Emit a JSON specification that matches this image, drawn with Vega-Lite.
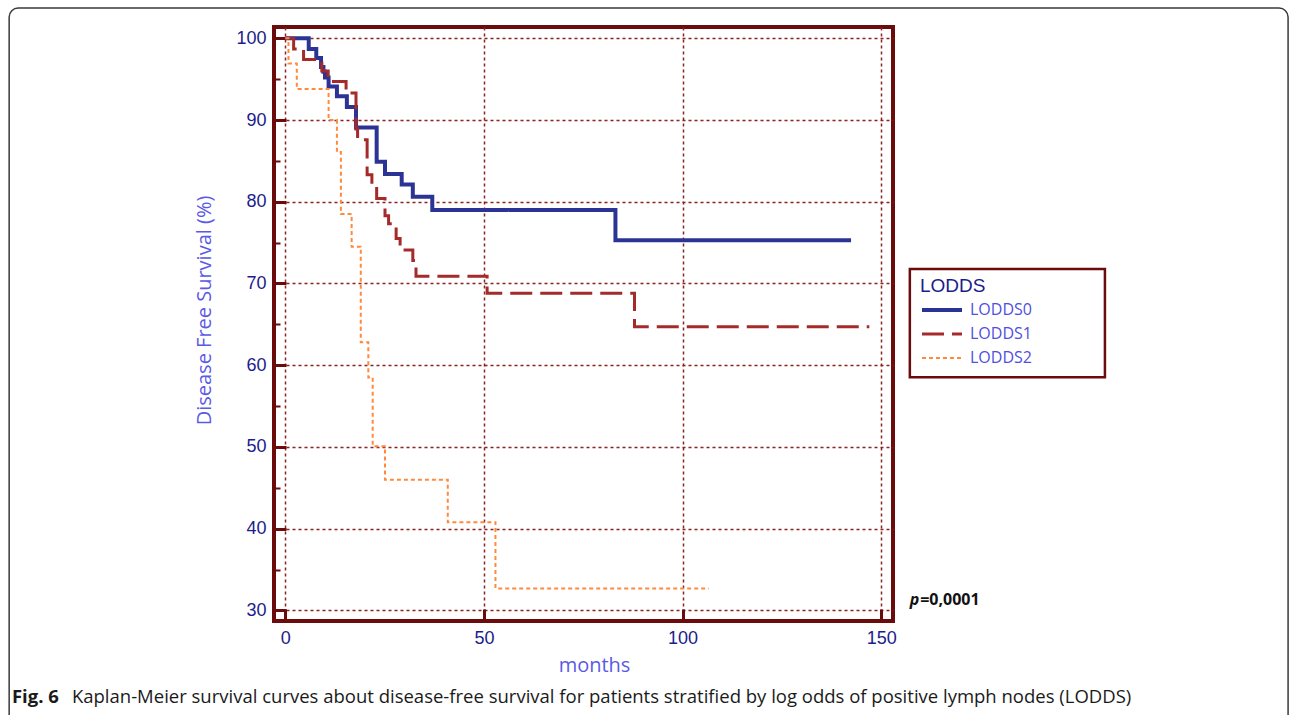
{
  "$schema": "https://vega.github.io/schema/vega-lite/v6.json",
  "width": 619,
  "height": 594,
  "autosize": {"type": "none"},
  "padding": {"left": 274, "top": 27, "right": 397, "bottom": 94},
  "background": "white",
  "config": {
    "view": {"stroke": "#6b0b0b", "strokeWidth": 4}
  },
  "layer": [
    {
      "data": {"values": [{"part": "figure"}]},
      "mark": {"type": "rect", "fillOpacity": 0, "stroke": "#3a3a3a", "strokeWidth": 1.5, "cornerRadius": 9},
      "encoding": {
        "x": {"datum": -69.5, "type": "quantitative", "scale": {"domain": [-2.84, 152.96], "nice": false, "zero": false}},
        "x2": {"datum": 252.4},
        "y": {"datum": 103.7, "type": "quantitative", "scale": {"domain": [28.71, 101.38], "nice": false, "zero": false}},
        "y2": {"datum": 15.0}
      }
    },
    {
      "data": {"values": [{"part": "legend"}]},
      "mark": {"type": "rect", "fillOpacity": 0, "stroke": "#6b0b0b", "strokeWidth": 2.5},
      "encoding": {
        "x": {"datum": 157.2, "type": "quantitative", "scale": {"domain": [-2.84, 152.96], "nice": false, "zero": false}},
        "x2": {"datum": 206.3},
        "y": {"datum": 71.76, "type": "quantitative", "scale": {"domain": [28.71, 101.38], "nice": false, "zero": false}},
        "y2": {"datum": 58.54}
      }
    },
    {
      "data": {"values": [
        {"group": "LODDS0", "t": 0, "s": 100},
        {"group": "LODDS0", "t": 5.9, "s": 98.7},
        {"group": "LODDS0", "t": 7.8, "s": 97.6},
        {"group": "LODDS0", "t": 9.0, "s": 96.5},
        {"group": "LODDS0", "t": 9.6, "s": 95.9},
        {"group": "LODDS0", "t": 10.0, "s": 95.2},
        {"group": "LODDS0", "t": 10.9, "s": 94.1},
        {"group": "LODDS0", "t": 13.0, "s": 92.9},
        {"group": "LODDS0", "t": 15.5, "s": 91.6},
        {"group": "LODDS0", "t": 17.8, "s": 89.1},
        {"group": "LODDS0", "t": 23.0, "s": 84.9},
        {"group": "LODDS0", "t": 25.1, "s": 83.4},
        {"group": "LODDS0", "t": 29.3, "s": 82.1},
        {"group": "LODDS0", "t": 32.1, "s": 80.6},
        {"group": "LODDS0", "t": 37.0, "s": 79.0},
        {"group": "LODDS0", "t": 83.1, "s": 75.3},
        {"group": "LODDS0", "t": 142.4, "s": 75.3},
        {"group": "LODDS1", "t": 0, "s": 100},
        {"group": "LODDS1", "t": 2.1, "s": 98.7},
        {"group": "LODDS1", "t": 4.6, "s": 97.4},
        {"group": "LODDS1", "t": 9.2, "s": 96.0},
        {"group": "LODDS1", "t": 10.8, "s": 94.7},
        {"group": "LODDS1", "t": 15.3, "s": 93.3},
        {"group": "LODDS1", "t": 17.8, "s": 88.9},
        {"group": "LODDS1", "t": 18.2, "s": 87.6},
        {"group": "LODDS1", "t": 20.6, "s": 83.3},
        {"group": "LODDS1", "t": 21.8, "s": 82.2},
        {"group": "LODDS1", "t": 23.0, "s": 80.4},
        {"group": "LODDS1", "t": 25.1, "s": 78.3},
        {"group": "LODDS1", "t": 26.0, "s": 77.3},
        {"group": "LODDS1", "t": 27.9, "s": 75.5},
        {"group": "LODDS1", "t": 28.9, "s": 74.1},
        {"group": "LODDS1", "t": 32.1, "s": 72.8},
        {"group": "LODDS1", "t": 32.9, "s": 70.9},
        {"group": "LODDS1", "t": 50.8, "s": 68.8},
        {"group": "LODDS1", "t": 87.9, "s": 64.7},
        {"group": "LODDS1", "t": 147.0, "s": 64.7},
        {"group": "LODDS2", "t": 0, "s": 100},
        {"group": "LODDS2", "t": 0.8, "s": 96.9},
        {"group": "LODDS2", "t": 2.9, "s": 93.8},
        {"group": "LODDS2", "t": 10.9, "s": 90.0},
        {"group": "LODDS2", "t": 13.0, "s": 86.1},
        {"group": "LODDS2", "t": 14.0, "s": 78.5},
        {"group": "LODDS2", "t": 16.7, "s": 74.5},
        {"group": "LODDS2", "t": 19.0, "s": 62.8},
        {"group": "LODDS2", "t": 20.9, "s": 58.5},
        {"group": "LODDS2", "t": 22.0, "s": 50.1},
        {"group": "LODDS2", "t": 25.1, "s": 46.0},
        {"group": "LODDS2", "t": 40.9, "s": 40.8},
        {"group": "LODDS2", "t": 52.9, "s": 32.7},
        {"group": "LODDS2", "t": 106.6, "s": 32.7}
      ]},
      "mark": {"type": "line", "interpolate": "step-after", "strokeCap": "butt"},
      "encoding": {
        "x": {
          "field": "t", "type": "quantitative",
          "scale": {"domain": [-2.84, 152.96], "nice": false, "zero": false},
          "axis": {
            "values": [0, 50, 100, 150],
            "title": "months",
            "titleFont": "Open Sans", "titleFontSize": 20, "titleFontWeight": "normal", "titleColor": "#5a5ae6", "titlePadding": 8, "titleX": 320,
            "labelFont": "Liberation Sans", "labelFontSize": 18, "labelColor": "#1c1c8c", "labelPadding": 20, "labelFlush": false,
            "tickSize": -12, "tickWidth": 3, "tickColor": "#6b0b0b",
            "domain": false,
            "grid": true, "gridColor": "#8b2323", "gridDash": [3, 3], "gridWidth": 1.5
          }
        },
        "y": {
          "field": "s", "type": "quantitative",
          "scale": {"domain": [28.71, 101.38], "nice": false, "zero": false},
          "axis": {
            "values": [30, 35, 40, 45, 50, 55, 60, 65, 70, 75, 80, 85, 90, 95, 100],
            "title": "Disease Free Survival (%)",
            "titleFont": "Open Sans", "titleFontSize": 20, "titleFontWeight": "normal", "titleColor": "#5a5ae6", "titlePadding": 21, "titleY": 283,
            "labelFont": "Liberation Sans", "labelFontSize": 18, "labelColor": "#1c1c8c", "labelPadding": 20, "labelFlush": false,
            "labelExpr": "datum.value % 10 === 0 ? datum.label : ''",
            "tickSize": {"condition": {"test": "datum.value % 10 === 0", "value": -12}, "value": -6},
            "tickWidth": {"condition": {"test": "datum.value % 10 === 0", "value": 3}, "value": 2},
            "tickColor": "#6b0b0b",
            "domain": false,
            "grid": true, "gridColor": "#8b2323", "gridDash": [3, 3], "gridWidth": 1.5,
            "gridOpacity": {"condition": {"test": "datum.value % 10 === 0", "value": 1}, "value": 0}
          }
        },
        "color": {
          "field": "group", "type": "nominal", "title": "LODDS",
          "scale": {"domain": ["LODDS0", "LODDS1", "LODDS2"], "range": ["#2b3494", "#a52a2a", "#ff8a3d"]},
          "legend": {
            "orient": "none", "legendX": 646, "legendY": 250,
            "titleFont": "Liberation Sans", "titleFontSize": 19, "titleFontWeight": "normal", "titleColor": "#1c1c8c", "titlePadding": 5,
            "labelFont": "Open Sans", "labelFontSize": 16, "labelColor": "#4f4fe0", "labelOffset": 6,
            "symbolType": "stroke", "symbolSize": 1600, "clipHeight": 18, "rowPadding": 6, "padding": 0
          }
        },
        "strokeDash": {
          "field": "group", "type": "nominal", "title": "LODDS",
          "scale": {"domain": ["LODDS0", "LODDS1", "LODDS2"], "range": [[1, 0], [22, 8], [4, 3]]}
        },
        "strokeWidth": {
          "field": "group", "type": "ordinal", "title": "LODDS",
          "scale": {"domain": ["LODDS0", "LODDS1", "LODDS2"], "range": [4, 2, 2]}
        }
      }
    },
    {
      "data": {"values": [{"label": "p"}]},
      "mark": {"type": "text", "font": "Open Sans", "fontSize": 16, "fontWeight": "bold", "fontStyle": "italic", "align": "left", "baseline": "middle", "color": "#111111"},
      "encoding": {
        "text": {"field": "label"},
        "x": {"datum": 157.2, "type": "quantitative", "scale": {"domain": [-2.84, 152.96], "nice": false, "zero": false}},
        "y": {"datum": 31.25, "type": "quantitative", "scale": {"domain": [28.71, 101.38], "nice": false, "zero": false}}
      }
    },
    {
      "data": {"values": [{"label": "=0,0001"}]},
      "mark": {"type": "text", "font": "Open Sans", "fontSize": 16, "fontWeight": "bold", "align": "left", "baseline": "middle", "color": "#111111"},
      "encoding": {
        "text": {"field": "label"},
        "x": {"datum": 159.8, "type": "quantitative", "scale": {"domain": [-2.84, 152.96], "nice": false, "zero": false}},
        "y": {"datum": 31.25, "type": "quantitative", "scale": {"domain": [28.71, 101.38], "nice": false, "zero": false}}
      }
    },
    {
      "data": {"values": [{"label": "Fig. 6"}]},
      "mark": {"type": "text", "font": "Open Sans", "fontSize": 18.5, "fontWeight": "bold", "align": "left", "baseline": "middle", "color": "#1a1a1a"},
      "encoding": {
        "text": {"field": "label"},
        "x": {"datum": -68.8, "type": "quantitative", "scale": {"domain": [-2.84, 152.96], "nice": false, "zero": false}},
        "y": {"datum": 19.38, "type": "quantitative", "scale": {"domain": [28.71, 101.38], "nice": false, "zero": false}}
      }
    },
    {
      "data": {"values": [{"label": "Kaplan-Meier survival curves about disease-free survival for patients stratified by log odds of positive lymph nodes (LODDS)"}]},
      "mark": {"type": "text", "font": "Open Sans", "fontSize": 18.5, "fontWeight": "normal", "align": "left", "baseline": "middle", "color": "#1a1a1a"},
      "encoding": {
        "text": {"field": "label"},
        "x": {"datum": -53.7, "type": "quantitative", "scale": {"domain": [-2.84, 152.96], "nice": false, "zero": false}},
        "y": {"datum": 19.38, "type": "quantitative", "scale": {"domain": [28.71, 101.38], "nice": false, "zero": false}}
      }
    }
  ]
}
